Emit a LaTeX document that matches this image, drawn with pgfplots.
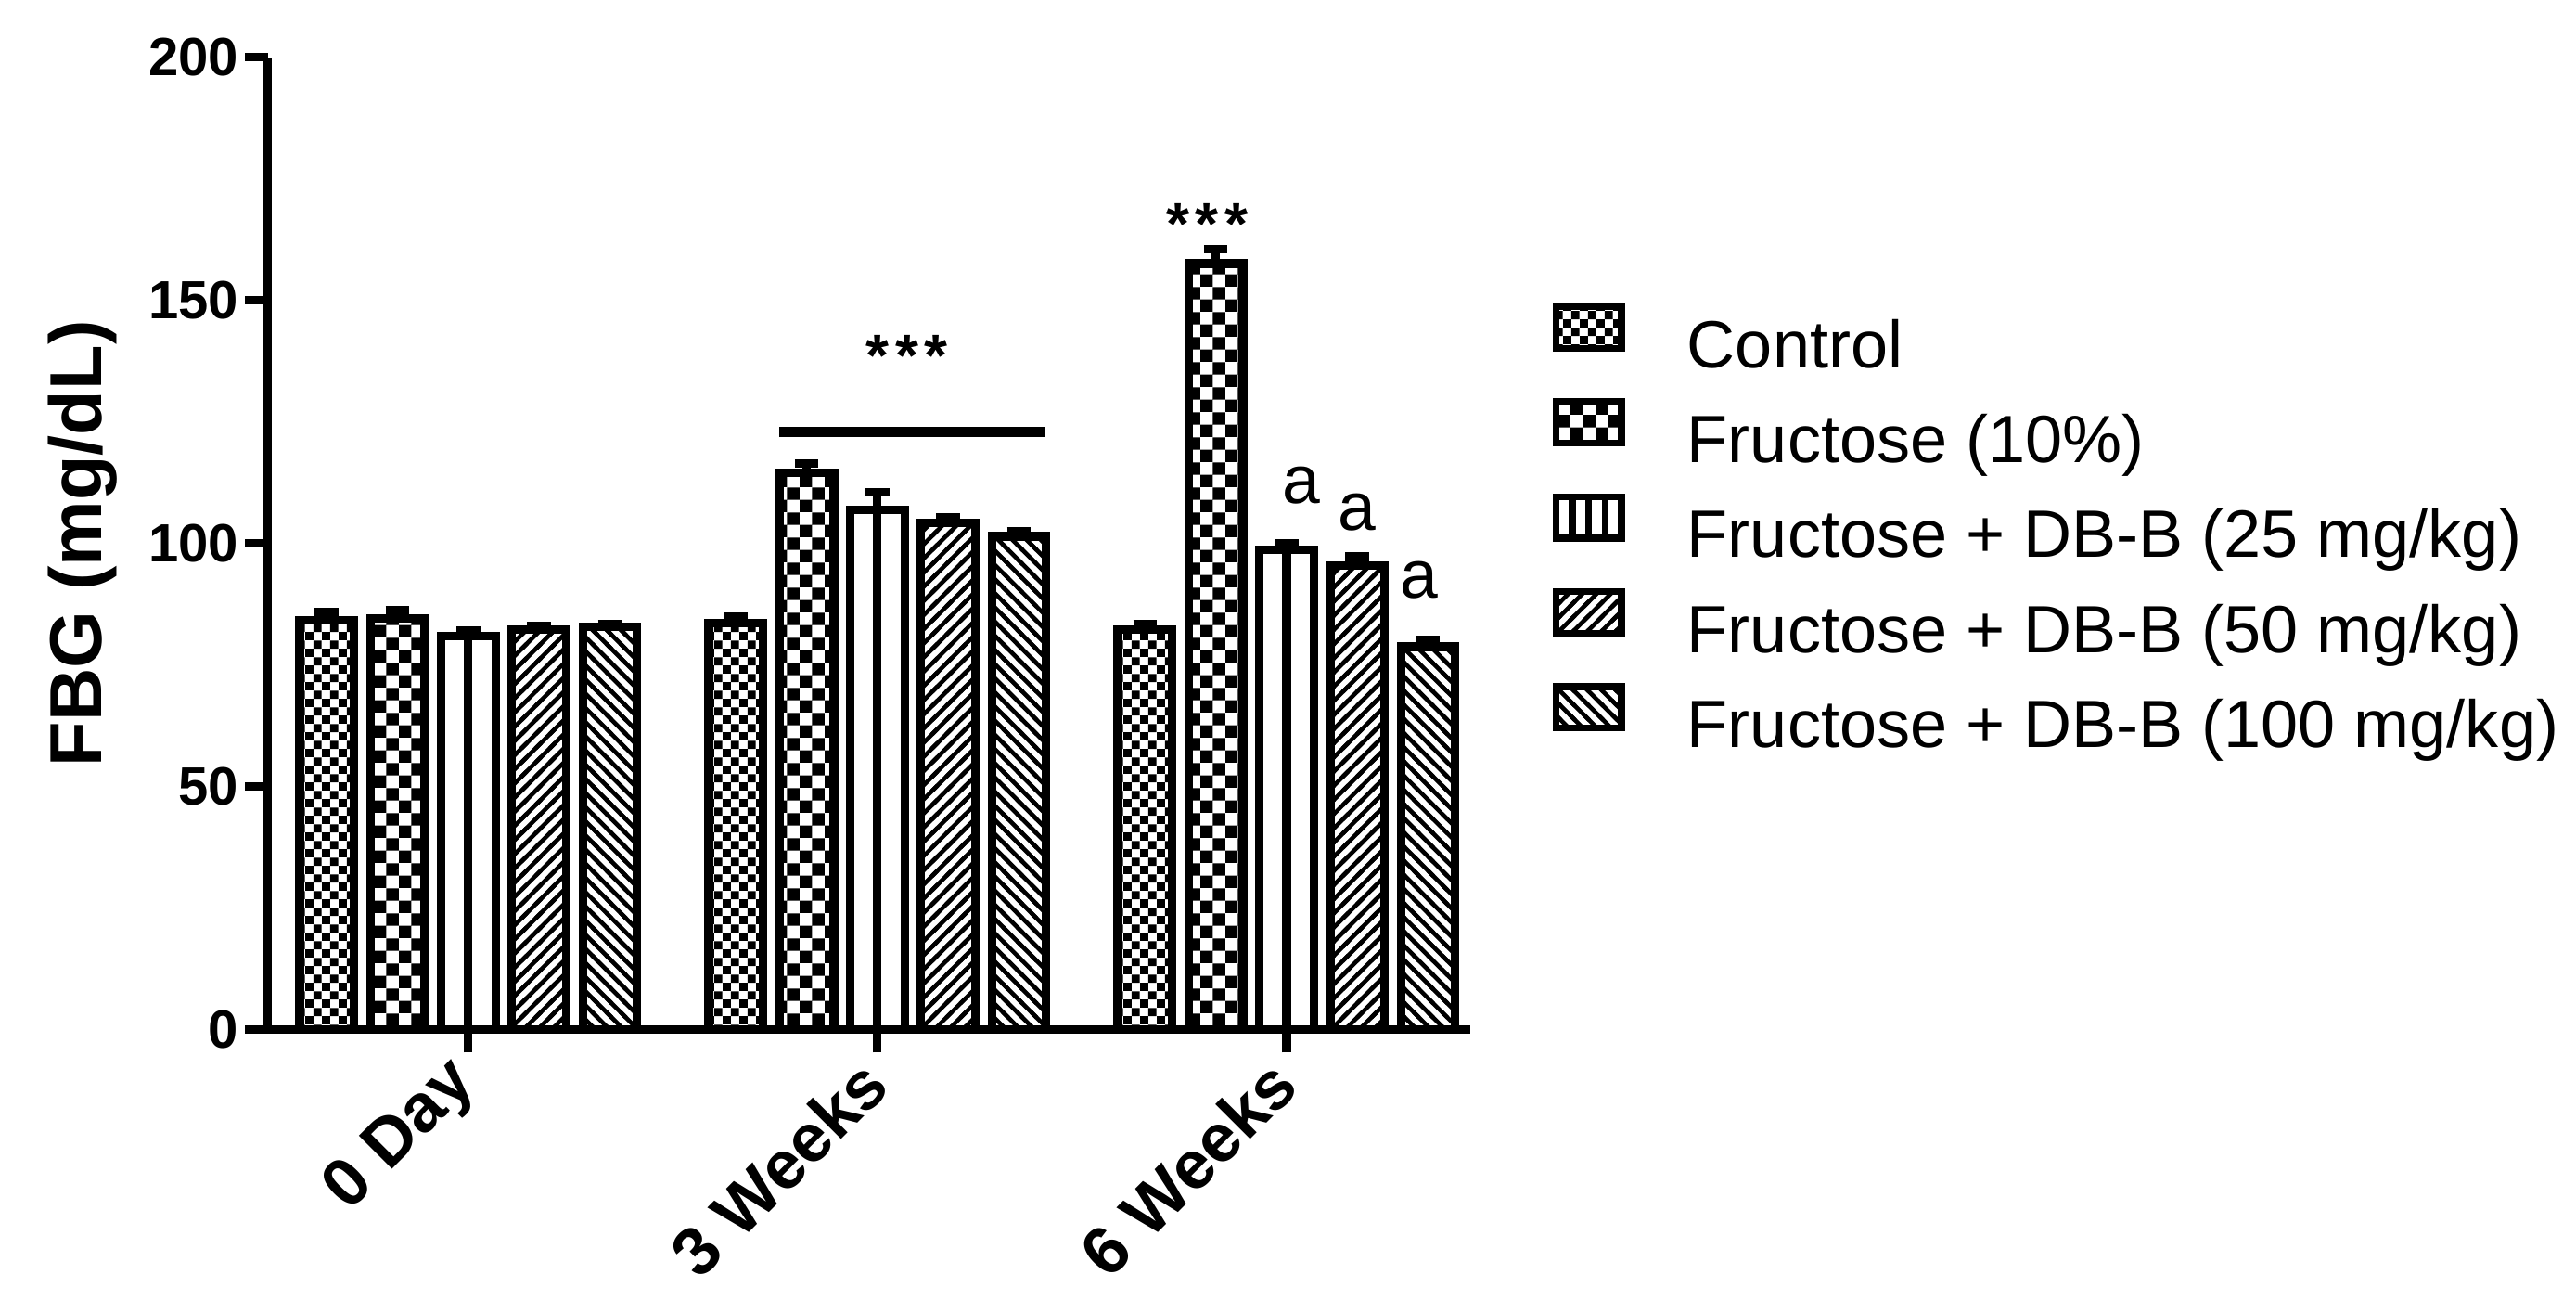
\documentclass[border=0pt]{standalone}
\usepackage{fontspec}
\setmainfont{Liberation Sans}
\usepackage{pgfplots}
\pgfplotsset{compat=1.18}
\usetikzlibrary{patterns}

% bar fills
\pgfdeclarepatternformonly{finecheck}{\pgfqpoint{0pt}{0pt}}{\pgfqpoint{3pt}{3pt}}{\pgfqpoint{3pt}{3pt}}{%
  \pgfpathrectangle{\pgfqpoint{0pt}{0pt}}{\pgfqpoint{1.5pt}{1.5pt}}%
  \pgfpathrectangle{\pgfqpoint{1.5pt}{1.5pt}}{\pgfqpoint{1.5pt}{1.5pt}}%
  \pgfusepath{fill}}
\pgfdeclarepatternformonly{bigcheck}{\pgfqpoint{0pt}{0pt}}{\pgfqpoint{4.4pt}{4.4pt}}{\pgfqpoint{4.4pt}{4.4pt}}{%
  \pgfpathrectangle{\pgfqpoint{0pt}{0pt}}{\pgfqpoint{2.2pt}{2.2pt}}%
  \pgfpathrectangle{\pgfqpoint{2.2pt}{2.2pt}}{\pgfqpoint{2.2pt}{2.2pt}}%
  \pgfusepath{fill}}
\pgfdeclarepatternformonly{nelines}{\pgfqpoint{-1pt}{-1pt}}{\pgfqpoint{3.5pt}{3.5pt}}{\pgfqpoint{2.5pt}{2.5pt}}{%
  \pgfsetlinewidth{0.75pt}%
  \pgfpathmoveto{\pgfqpoint{-0.5pt}{-0.5pt}}\pgfpathlineto{\pgfqpoint{3pt}{3pt}}\pgfusepath{stroke}}
\pgfdeclarepatternformonly{nwlines}{\pgfqpoint{-1pt}{-1pt}}{\pgfqpoint{3.5pt}{3.5pt}}{\pgfqpoint{2.5pt}{2.5pt}}{%
  \pgfsetlinewidth{0.75pt}%
  \pgfpathmoveto{\pgfqpoint{-0.5pt}{3pt}}\pgfpathlineto{\pgfqpoint{3pt}{-0.5pt}}\pgfusepath{stroke}}

\pgfplotsset{
  mybar/.style={ybar, bar width=9.6pt, bar shift=0pt, draw=black, line width=1.5pt,
    /pgfplots/error bars/y dir=plus,
    /pgfplots/error bars/y explicit,
    /pgfplots/error bars/error bar style={line width=1.5pt},
    /pgfplots/error bars/error mark options={rotate=90, mark size=2.1pt, line width=1.5pt}},
  boxleg/.style={legend image code/.code={%
    \draw[##1, line width=1.2pt] (0pt,0.45pt) rectangle (11.6pt,7.75pt);
    \path[draw=none, fill=none] (0pt,4pt) -- (23.2pt,4pt);}},
}
\newcommand\stars{\bfseries *\kern1.1pt*\kern1.1pt*}

\begin{document}
\begin{tikzpicture}
\begin{axis}[
  scale only axis, width=212.3pt, height=171.6pt,
  xmin=-0.49, xmax=2.45, ymin=0, ymax=200,
  axis lines=left, axis line style={-, line width=1.5pt},
  xtick={0,1,2}, xticklabels={0 Day,3 Weeks,6 Weeks},
  ytick={0,50,100,150,200},
  tick align=outside, major tick length=4pt,
  tick style={line width=1.5pt, black},
  xticklabel style={xshift=2pt, yshift=-1pt, rotate=45, anchor=east,
    font=\fontsize{12}{14}\selectfont\bfseries},
  yticklabel style={font=\fontsize{9.5}{11}\selectfont\bfseries, inner xsep=1pt},
  /pgf/number format/assume math mode=true,
  ylabel={FBG (mg/dL)},
  ylabel style={font=\fontsize{13}{15}\selectfont\bfseries,
    at={(axis description cs:-0.154,0.5)}, anchor=center},
  legend cell align=left,
  legend style={draw=none, fill=none, inner sep=0pt, outer sep=0pt,
    at={(1.068,0.747)}, anchor=north west,
    font=\fontsize{11.8}{13}\selectfont, row sep=2.4pt,
    nodes={inner sep=0pt, text height=9pt, text depth=3pt}},
]
\addplot[mybar, pattern=finecheck, boxleg] coordinates {
  (-0.346,84.2) +- (0,1.7) (0.654,83.7) +- (0,1.2) (1.654,82.3) +- (0,1.2)};
\addlegendentry{Control}
\addplot[mybar, pattern=bigcheck, boxleg] coordinates {
  (-0.173,84.6) +- (0,1.7) (0.827,114.5) +- (0,2.0) (1.827,157.6) +- (0,3.0)};
\addlegendentry{Fructose (10\%)}
\addplot[mybar, fill=white,
  legend image code/.code={%
    \draw[line width=1.2pt] (0pt,0.45pt) rectangle (11.6pt,7.75pt);
    \draw[line width=1.2pt] (2.9pt,0.45pt) -- (2.9pt,7.75pt) (5.8pt,0.45pt) -- (5.8pt,7.75pt) (8.7pt,0.45pt) -- (8.7pt,7.75pt);
    \path[draw=none, fill=none] (0pt,4pt) -- (23.2pt,4pt);}] coordinates {
  (0,81.0) +- (0,1.2) (1,106.9) +- (0,3.6) (2,98.7) +- (0,1.4)};
\addlegendentry{Fructose + DB-B (25 mg/kg)}
\addplot[ybar, bar width=0pt, bar shift=0pt, draw=black, line width=1.5pt, forget plot] coordinates {
  (0,81.0) (1,106.9) (2,98.7)};
\addplot[mybar, pattern=nelines, boxleg] coordinates {
  (0.173,82.3) +- (0,0.7) (1.173,104.3) +- (0,1.1) (2.173,95.5) +- (0,1.8)};
\addlegendentry{Fructose + DB-B (50 mg/kg)}
\addplot[mybar, pattern=nwlines, boxleg] coordinates {
  (0.346,82.9) +- (0,0.6) (1.346,101.5) +- (0,1.0) (2.346,78.8) +- (0,1.5)};
\addlegendentry{Fructose + DB-B (100 mg/kg)}

\draw[line width=1.8pt] (axis cs:0.76,123) -- (axis cs:1.41,123);
\node[font=\fontsize{10.5}{12}\selectfont, anchor=base, inner sep=0pt] at (axis cs:1.072,134.4) {\stars};
\node[font=\fontsize{10.5}{12}\selectfont, anchor=base, inner sep=0pt] at (axis cs:1.806,161.6) {\stars};
\node[font=\fontsize{12}{12}\selectfont] at (axis cs:2.036,112) {a};
\node[font=\fontsize{12}{12}\selectfont] at (axis cs:2.173,106.4) {a};
\node[font=\fontsize{12}{12}\selectfont] at (axis cs:2.325,92.6) {a};
% page extent as in the reference
\coordinate (bbsw) at (axis description cs:-0.2227,-0.2905);
\coordinate (bbne) at (axis description cs:1.919,1.059);
\end{axis}
\pgfresetboundingbox
\path (bbsw) rectangle (bbne);
\end{tikzpicture}
\end{document}
